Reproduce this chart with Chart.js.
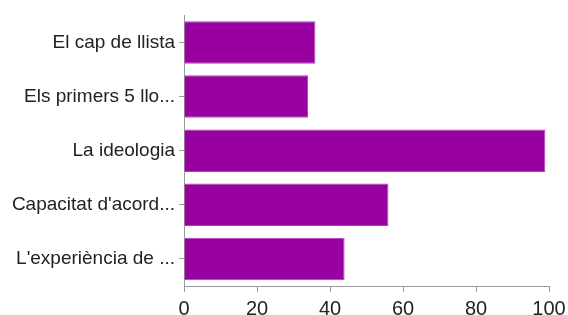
<!DOCTYPE html>
<html lang="ca">
<head>
  <meta charset="UTF-8">
  <title>Bar chart</title>
  <script src="https://cdn.jsdelivr.net/npm/chart.js"></script>
  <style>
    html, body {
      margin: 0;
      padding: 0;
      background: #fff;
    }
    .chart-box {
      width: 568px;
      height: 315px;
    }
  </style>
</head>
<body>
  <div class="chart-box">
    <canvas id="barChart"></canvas>
  </div>

  <script>
    const categories = [
      'El cap de llista',
      'Els primers 5 llo...',
      'La ideologia',
      "Capacitat d'acord...",
      "L'experiència de ..."
    ];
    const values = [36, 34, 99, 56, 44];
    const xTicks = [0, 20, 40, 60, 80, 100];

    const axisColor = '#9a9a9a';
    const textColor = '#222222';

    const ctx = document.getElementById('barChart').getContext('2d');

    new Chart(ctx, {
      type: 'bar',
      data: {
        labels: categories,
        datasets: [{
          data: values,
          backgroundColor: '#9900a0',
          borderColor: '#b040b8',
          borderWidth: 1,
          barPercentage: 0.785,
          categoryPercentage: 1
        }]
      },
      options: {
        indexAxis: 'y',
        responsive: true,
        maintainAspectRatio: false,
        animation: false,
        layout: {
          padding: { top: 13, right: 19, left: 0, bottom: 0 }
        },
        plugins: {
          legend: { display: false },
          tooltip: { enabled: false }
        },
        scales: {
          x: {
            min: 0,
            max: 100,
            afterBuildTicks: (scale) => {
              scale.ticks = xTicks.map(v => ({ value: v }));
            },
            afterFit: (scale) => {
              scale.height = 29;
              scale.paddingRight = 0;
              scale.paddingLeft = 0;
            },
            grid: {
              drawOnChartArea: false,
              color: axisColor,
              tickLength: 6
            },
            border: { color: axisColor },
            ticks: {
              color: textColor,
              padding: 5,
              maxRotation: 0,
              font: { family: 'Liberation Sans, Arial, sans-serif', size: 20 }
            }
          },
          y: {
            afterFit: (scale) => { scale.width = 184; },
            grid: {
              offset: false,
              drawOnChartArea: false,
              color: axisColor,
              tickLength: 5
            },
            border: { color: axisColor },
            ticks: {
              color: textColor,
              padding: 4,
              font: { family: 'Liberation Sans, Arial, sans-serif', size: 19 }
            }
          }
        }
      }
    });
  </script>
</body>
</html>
